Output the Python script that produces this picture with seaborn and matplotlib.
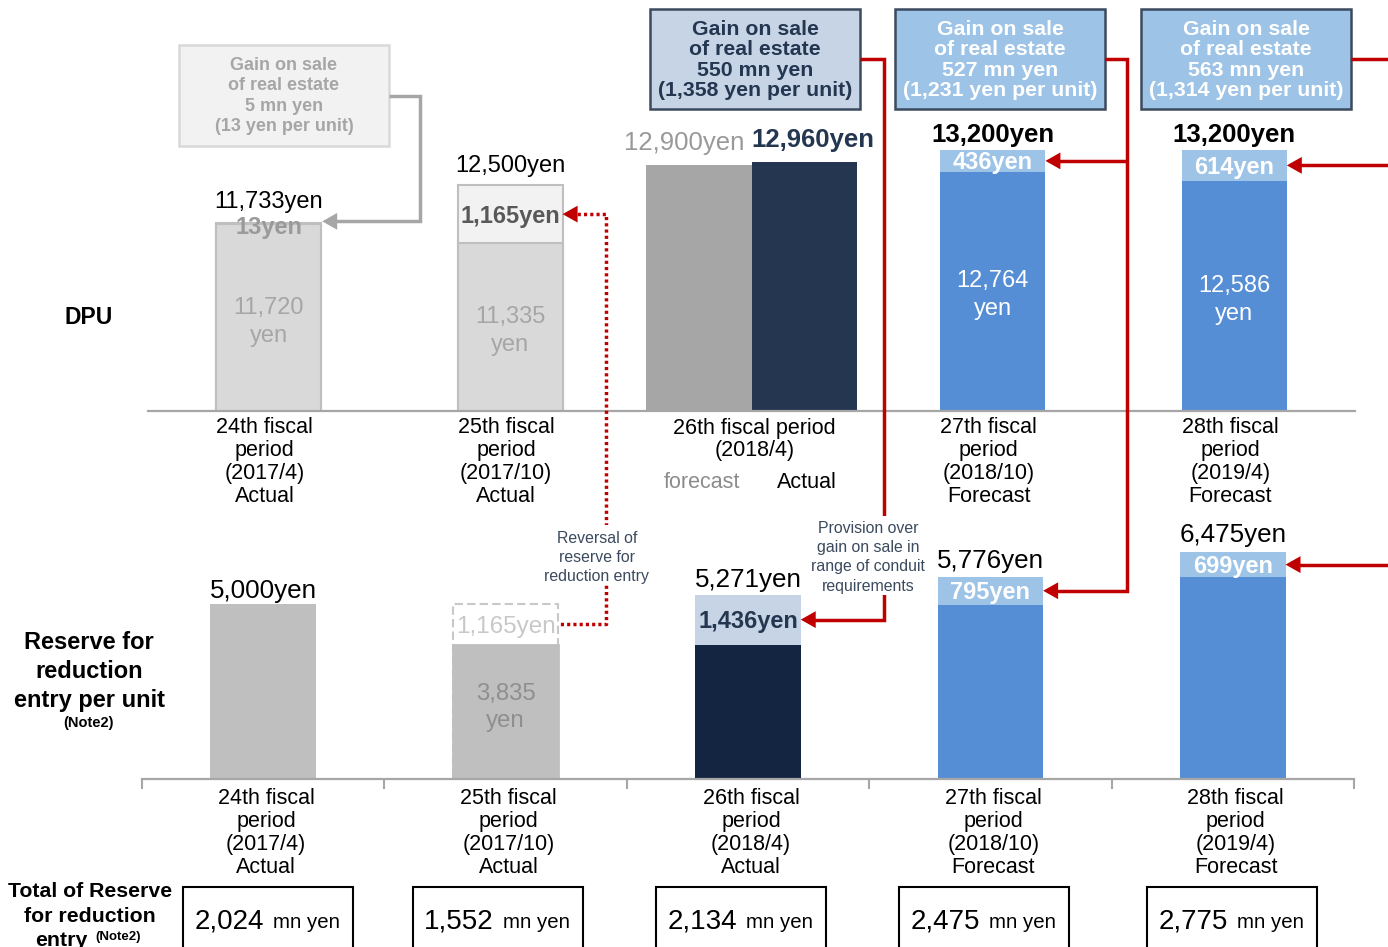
import matplotlib
matplotlib.use("Agg")
import matplotlib.pyplot as plt
import matplotlib.transforms as mtransforms
from matplotlib.lines import Line2D
from matplotlib.patches import ArrowStyle, FancyArrowPatch, Rectangle
import pandas as pd
import seaborn as sns

# ---------------- data ----------------
periods = ["24th", "25th", "26th", "27th", "28th"]
period_months = ["2017/4", "2017/10", "2018/4", "2018/10", "2019/4"]
period_status = ["Actual", "Actual", "Actual", "Forecast", "Forecast"]

# distribution per unit (yen) and the part of it paid out of gains on sale
dpu_total = [11733, 12500, 12960, 13200, 13200]
dpu_gain = [13, 1165, 0, 436, 614]
dpu_forecast_26th = 12900

# reserve for reduction entry per unit (yen); a negative change is a reversal
reserve_base = [5000, 3835, 3835, 4981, 5776]
reserve_change = [0, -1165, 1436, 795, 699]

# total reserve for reduction entry (mn yen)
reserve_total_mn = [2024, 1552, 2134, 2475, 2775]

# gains on sale of real estate
gain_periods = ["24th", "26th", "27th", "28th"]
gain_mn = [5, 550, 527, 563]
gain_per_unit = [13, 1358, 1231, 1314]

# ---------------- style ----------------
GRAY_LIGHT = "#d9d9d9"
GRAY_PALE = "#f2f2f2"
GRAY_EDGE = "#bfbfbf"
GRAY_MID = "#a6a6a6"
GRAY_RES = "#bfbfbf"
NAVY = "#243650"
NAVY_DARK = "#132540"
BLUE = "#558ed5"
BLUE_LIGHT = "#9dc3e6"
STEEL_LIGHT = "#c6d4e6"
SLATE = "#3b4a5e"
RED = "#c00000"

sns.set_theme(style="white")
plt.rcParams["font.family"] = ["Liberation Sans", "DejaVu Sans"]

W, H = 1388, 947
fig = plt.figure(figsize=(W / 100, H / 100), dpi=100, facecolor="white")
PX = mtransforms.Affine2D().scale(1, -1).translate(0, H)   # top-left pixel space


def add_axes_px(left, top, right, bottom):
    return fig.add_axes([left / W, 1 - bottom / H, (right - left) / W, (bottom - top) / H])


def data_px(ax, x, y):
    X, Y = ax.transData.transform((x, y))
    return X, H - Y


def ptext(x, y, s, size, color="black", weight="normal", ha="center", zorder=4):
    # y is the vertical centre of the capital letters
    fig.text(x, y + size / 2, s, transform=PX, fontsize=size, color=color,
             fontweight=weight, ha=ha, va="baseline", zorder=zorder)


BW = 0.435
TOP_Y0, TOP_PX_PER_YEN = 7980, 0.05
BOT_PX_PER_YEN = 0.035

ax_top = add_axes_px(148, 0, 1355, 411)
ax_bot = add_axes_px(142, 420, 1354, 779)

# ---------------- DPU panel ----------------
df_top = pd.DataFrame({"period": periods, "total": dpu_total, "gain": dpu_gain})
df_top["base"] = df_top["total"] - df_top["gain"]
top_split = df_top[df_top["gain"] > 0]

top_upper_pal = {"24th": GRAY_LIGHT, "25th": GRAY_PALE, "27th": BLUE_LIGHT, "28th": BLUE_LIGHT}
top_lower_pal = {"24th": GRAY_LIGHT, "25th": GRAY_LIGHT, "27th": BLUE, "28th": BLUE}
outlined = {"24th", "25th"}

for col, pal in (("total", top_upper_pal), ("base", top_lower_pal)):
    sns.barplot(data=top_split, x="period", y=col, order=periods, hue="period",
                palette=pal, width=BW, saturation=1, errorbar=None, legend=False,
                ax=ax_top)
for p in ax_top.patches:
    p.set_linewidth(0)
    i = round(p.get_x() + p.get_width() / 2)
    if periods[i] in outlined:
        p.set_edgecolor(GRAY_EDGE)
        p.set_linewidth(1.5)

# 26th period: forecast and actual side by side
ax_top.bar([2 - BW / 2, 2 + BW / 2], [dpu_forecast_26th, dpu_total[2]], width=BW,
           color=[GRAY_MID, NAVY], linewidth=0)

ax_top.set_xlim(-0.5, 4.5)
ax_top.set_ylim(TOP_Y0, TOP_Y0 + 411 / TOP_PX_PER_YEN)

# ---------------- reserve panel ----------------
df_bot = pd.DataFrame({"period": periods, "base": reserve_base, "change": reserve_change})
df_bot["upper"] = df_bot["base"] + df_bot["change"].abs()

bot_upper_pal = {"24th": GRAY_RES, "25th": "white", "26th": STEEL_LIGHT,
                 "27th": BLUE_LIGHT, "28th": BLUE_LIGHT}
bot_lower_pal = {"24th": GRAY_RES, "25th": GRAY_RES, "26th": NAVY_DARK,
                 "27th": BLUE, "28th": BLUE}

sns.barplot(data=df_bot, x="period", y="upper", order=periods, hue="period",
            palette=bot_upper_pal, width=BW, saturation=1, errorbar=None,
            legend=False, ax=ax_bot)
n_upper = len(ax_bot.patches)
sns.barplot(data=df_bot, x="period", y="base", order=periods, hue="period",
            palette=bot_lower_pal, width=BW, saturation=1, errorbar=None,
            legend=False, ax=ax_bot)
for k, p in enumerate(ax_bot.patches):
    p.set_linewidth(0)
    i = round(p.get_x() + p.get_width() / 2)
    if reserve_change[i] < 0:
        if k < n_upper:
            p.set_edgecolor("#c8c8c8")
            p.set_linewidth(1.5)
            p.set_linestyle((0, (4, 2)))
        else:
            p.set_edgecolor(GRAY_RES)
            p.set_linewidth(2)

ax_bot.set_xlim(-0.5, 4.5)
ax_bot.set_ylim(0, 359 / BOT_PX_PER_YEN)

for ax in (ax_top, ax_bot):
    ax.set_facecolor("none")
    ax.set_xlabel("")
    ax.set_ylabel("")
    ax.set_yticks([])
    for side in ("left", "right", "top"):
        ax.spines[side].set_visible(False)
    ax.spines["bottom"].set_color(GRAY_MID)
    ax.spines["bottom"].set_linewidth(1.6)
ax_top.set_xticks([])
ax_bot.set_xticks([i - 0.5 for i in range(len(periods) + 1)])
ax_bot.tick_params(axis="x", direction="out", length=7, width=1.5, colors=GRAY_MID,
                   bottom=True, labelbottom=False)

# ---------------- period labels ----------------
for i, p in enumerate(periods):
    cx, by = data_px(ax_top, i, TOP_Y0)
    if i == 2:
        ptext(cx + 3, by + 15, f"{p} fiscal period", 15.5)
        ptext(cx + 3, by + 37, f"({period_months[i]})", 15.5)
        fx, _ = data_px(ax_top, i - BW / 2, TOP_Y0)
        axx, _ = data_px(ax_top, i + BW / 2, TOP_Y0)
        ptext(fx + 3, by + 69, "forecast", 15.5, color="#8c8c8c")
        ptext(axx + 3, by + 69, "Actual", 15.5)
    else:
        for k, line in enumerate([f"{p} fiscal", "period", f"({period_months[i]})", period_status[i]]):
            ptext(cx - 4, by + 14.5 + 23 * k, line, 15.5)

for i, p in enumerate(periods):
    cx, by = data_px(ax_bot, i, 0)
    for k, line in enumerate([f"{p} fiscal", "period", f"({period_months[i]})", period_status[i]]):
        ptext(cx + 3, by + 17 + 23 * k, line, 15.5)

# ---------------- DPU value labels ----------------
top_total_style = [  # size, weight, colour, gap above bar (px)
    (17, "normal", "black", 24),
    (17, "normal", "black", 21.5),
    (18.5, "bold", NAVY, 24.5),
    (18.5, "bold", "black", 17),
    (18.5, "bold", "black", 17),
]
gain_label_style = {"24th": ("#9a9a9a", 2), "25th": ("#595959", 0),
                    "27th": ("white", 0), "28th": ("white", 0)}
base_label_colour = {"24th": GRAY_MID, "25th": GRAY_MID, "27th": "white", "28th": "white"}

for i, p in enumerate(periods):
    size, weight, colour, gap = top_total_style[i]
    if i == 2:
        _, fy = data_px(ax_top, i, dpu_forecast_26th)
        fx, _ = data_px(ax_top, i - 0.03, dpu_forecast_26th)
        ptext(fx, fy - 24, f"{dpu_forecast_26th:,}yen", size, color="#999999", ha="right")
        ax_, ay = data_px(ax_top, i, dpu_total[i])
        ptext(ax_, ay - gap, f"{dpu_total[i]:,}yen", size, color=colour, weight=weight, ha="left")
        continue
    cx, ty = data_px(ax_top, i, dpu_total[i])
    ptext(cx, ty - gap, f"{dpu_total[i]:,}yen", size, color=colour, weight=weight)

    base = dpu_total[i] - dpu_gain[i]
    gcol, gshift = gain_label_style[p]
    _, gy = data_px(ax_top, i, base + dpu_gain[i] / 2)
    ptext(cx, gy + gshift, f"{dpu_gain[i]:,}yen", 17, color=gcol, weight="bold")

    _, my = data_px(ax_top, i, (TOP_Y0 + base) / 2)
    ptext(cx, my - 12.5, f"{base:,}", 17, color=base_label_colour[p])
    ptext(cx, my + 15.5, "yen", 17, color=base_label_colour[p])

# ---------------- reserve value labels ----------------
bot_total_gap = [15, 0, 17, 18, 20]
change_label_style = {"25th": ("#c8c8c8", "normal", 17.5), "26th": (NAVY, "bold", 17),
                      "27th": ("white", "bold", 17), "28th": ("white", "bold", 17)}
for i, p in enumerate(periods):
    base, change = reserve_base[i], reserve_change[i]
    upper = base + abs(change)
    cx, ty = data_px(ax_bot, i, upper)
    if change >= 0:
        ptext(cx, ty - bot_total_gap[i], f"{upper:,}yen", 18.7)
    if change != 0:
        col, weight, size = change_label_style[p]
        _, sy = data_px(ax_bot, i, base + abs(change) / 2)
        ptext(cx, sy, f"{abs(change):,}yen", size, color=col, weight=weight)
    if change < 0:
        _, my = data_px(ax_bot, i, base / 2)
        ptext(cx, my - 20.5, f"{base:,}", 17.3, color="#8f8f8f")
        ptext(cx, my + 6.5, "yen", 17.3, color="#8f8f8f")

# ---------------- row titles ----------------
ptext(89, 316, "DPU", 16.5, weight="bold")
for k, line in enumerate(["Reserve for", "reduction", "entry per unit"]):
    ptext(89, 640 + 29 * k, line, 17, weight="bold")
ptext(89, 722, "(Note2)", 10.5, weight="bold")
ptext(90, 889, "Total of Reserve", 15.3, weight="bold")
ptext(90, 914, "for reduction", 15.3, weight="bold")
ptext(88, 938, "entry", 15.3, weight="bold", ha="right")
ptext(95, 935, "(Note2)", 9.5, weight="bold", ha="left")

# ---------------- total reserve boxes ----------------
total_box_centres = [268, 498, 741, 984, 1232]
for cx, v in zip(total_box_centres, reserve_total_mn):
    fig.add_artist(Rectangle((cx - 85, 887), 170, 90, transform=PX, facecolor="white",
                             edgecolor="black", lw=1.5, zorder=1))
    ptext(cx - 4, 918, f"{v:,}", 20, ha="right")
    ptext(cx + 5, 928 - 7.35, "mn yen", 14.7, ha="left")

# ---------------- gain on sale callouts ----------------
gain_boxes = [(179, 45, 389, 146), (650, 9, 860, 109), (895, 9, 1105, 109), (1141, 9, 1351, 109)]
gain_box_style = {"24th": (GRAY_PALE, GRAY_LIGHT, GRAY_MID, 13),
                  "26th": (STEEL_LIGHT, SLATE, NAVY, 15.3),
                  "27th": (BLUE_LIGHT, SLATE, "white", 15.3),
                  "28th": (BLUE_LIGHT, SLATE, "white", 15.3)}
for (l, t, r, b), p, mn, per in zip(gain_boxes, gain_periods, gain_mn, gain_per_unit):
    face, edge, tcol, size = gain_box_style[p]
    fig.add_artist(Rectangle((l, t), r - l, b - t, transform=PX, facecolor=face,
                             edgecolor=edge, lw=1.8, zorder=1))
    lines = ["Gain on sale", "of real estate", f"{mn:,} mn yen", f"({per:,} yen per unit)"]
    for k, line in enumerate(lines):
        ptext((l + r) / 2, t + 18 + 20.5 * k, line, size, color=tcol, weight="bold")


def poly(points, colour, ls="-", lw=2.5):
    xs, ys = zip(*points)
    fig.add_artist(Line2D(xs, ys, transform=PX, color=colour, lw=lw, ls=ls,
                          solid_joinstyle="miter", solid_capstyle="butt", zorder=2))


def head(tip, colour):
    tx, ty = tip
    fig.add_artist(FancyArrowPatch((tx + 20, ty), (tx, ty), transform=PX,
                                   arrowstyle=ArrowStyle("-|>", head_length=0.8, head_width=0.45),
                                   mutation_scale=13.5, color=colour, lw=0,
                                   shrinkA=0, shrinkB=0, zorder=2))


def elbow_arrow(start, x_v, tip, colour, ls="-"):
    poly([start, (x_v, start[1]), (x_v, tip[1]), (tip[0] + 8, tip[1])], colour, ls=ls)
    head(tip, colour)


box_mid = {p: (r, (t + b) / 2) for (l, t, r, b), p in zip(gain_boxes, gain_periods)}

# 24th: gain paid out in DPU
tip = data_px(ax_top, 0 + BW / 2, dpu_total[0])
elbow_arrow(box_mid["24th"], 420, (tip[0] + 1, tip[1] - 2), GRAY_MID)

# 26th: gain provisioned into reserve
i = periods.index("26th")
tip = data_px(ax_bot, i + BW / 2, reserve_base[i] + reserve_change[i] / 2)
elbow_arrow(box_mid["26th"], 884, tip, RED)

# 27th and 28th: gain split between DPU and reserve
for p, x_v in (("27th", 1127), ("28th", 1398)):
    i = periods.index(p)
    tip_top = data_px(ax_top, i + BW / 2, dpu_total[i] - dpu_gain[i] / 2)
    tip_bot = data_px(ax_bot, i + BW / 2, reserve_base[i] + reserve_change[i] / 2)
    elbow_arrow(box_mid[p], x_v, tip_bot, RED)
    poly([(x_v, tip_top[1]), (tip_top[0] + 8, tip_top[1])], RED)
    head(tip_top, RED)

# 25th: reversal of reserve paid out in DPU (dotted)
i = periods.index("25th")
tip = data_px(ax_top, i + BW / 2, dpu_total[i] - dpu_gain[i] / 2)
end = data_px(ax_bot, i + BW / 2, reserve_base[i] + abs(reserve_change[i]) / 2)
poly([(tip[0] + 8, tip[1]), (606, tip[1]), (606, end[1]), end], RED, ls=(0, (0.9, 0.9)))
head(tip, RED)

# notes on the connectors
fig.add_artist(Rectangle((541, 525), 112, 60, transform=PX, facecolor="white",
                         edgecolor="none", zorder=3))
for k, line in enumerate(["Reversal of", "reserve for", "reduction entry"]):
    ptext(597, 537 + 19 * k, line, 11.4, color=SLATE)
fig.add_artist(Rectangle((808, 516), 122, 79, transform=PX, facecolor="white",
                         edgecolor="none", zorder=3))
for k, line in enumerate(["Provision over", "gain on sale in", "range of conduit", "requirements"]):
    ptext(868, 527 + 19.3 * k, line, 11.4, color=SLATE)

fig.savefig("out.png", dpi=100, facecolor="white")
